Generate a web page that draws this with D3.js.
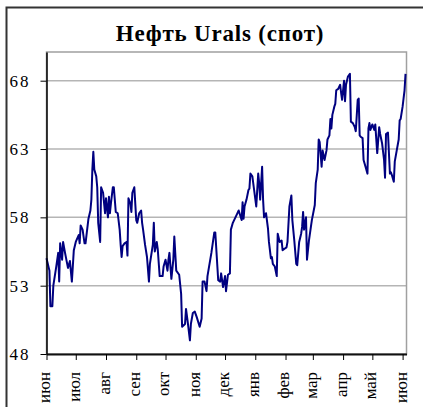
<!DOCTYPE html>
<html>
<head>
<meta charset="utf-8">
<script src="https://cdn.jsdelivr.net/npm/d3@7"></script>
<style>
  body { margin: 0; background: #fff; }
  svg { display: block; }
</style>
</head>
<body>
<script>
// Urals spot price
var title = 'Нефть Urals (спот)';

var dates = [
  '2005-06-01','2005-06-04','2005-06-05','2005-06-07','2005-06-08','2005-06-11','2005-06-13','2005-06-14',
  '2005-06-15','2005-06-17','2005-06-18','2005-06-20','2005-06-23','2005-06-25','2005-06-27','2005-06-29',
  '2005-07-01','2005-07-04','2005-07-05','2005-07-06','2005-07-08','2005-07-10','2005-07-11','2005-07-14',
  '2005-07-16','2005-07-17','2005-07-18','2005-07-19','2005-07-20','2005-07-22','2005-07-23','2005-07-24',
  '2005-07-26','2005-07-27','2005-07-29','2005-07-31','2005-08-01','2005-08-03','2005-08-04','2005-08-05',
  '2005-08-06','2005-08-08','2005-08-09','2005-08-11','2005-08-13','2005-08-15','2005-08-16','2005-08-17',
  '2005-08-18','2005-08-20','2005-08-22','2005-08-23','2005-08-24','2005-08-26','2005-08-27','2005-08-28',
  '2005-08-30','2005-09-01','2005-09-02','2005-09-04','2005-09-06','2005-09-07','2005-09-08','2005-09-10',
  '2005-09-12','2005-09-14','2005-09-15','2005-09-18','2005-09-19','2005-09-20','2005-09-22','2005-09-23',
  '2005-09-25','2005-09-28','2005-09-29','2005-10-01','2005-10-03','2005-10-04','2005-10-05','2005-10-07',
  '2005-10-09','2005-10-10','2005-10-12','2005-10-15','2005-10-17','2005-10-18','2005-10-21','2005-10-22',
  '2005-10-24','2005-10-26','2005-10-27','2005-10-29','2005-10-31','2005-11-02','2005-11-05','2005-11-07',
  '2005-11-08','2005-11-10','2005-11-12','2005-11-13','2005-11-17','2005-11-20','2005-11-21','2005-11-24',
  '2005-11-26','2005-11-27','2005-11-29','2005-12-01','2005-12-02','2005-12-04','2005-12-06','2005-12-07',
  '2005-12-09','2005-12-13','2005-12-15','2005-12-18','2005-12-19','2005-12-20','2005-12-21','2005-12-23',
  '2005-12-25','2005-12-26','2005-12-27','2005-12-29','2005-12-31','2006-01-02','2006-01-04','2006-01-05',
  '2006-01-06','2006-01-08','2006-01-09','2006-01-10','2006-01-12','2006-01-14','2006-01-15','2006-01-17',
  '2006-01-18','2006-01-19','2006-01-21','2006-01-23','2006-01-24','2006-01-26','2006-01-28','2006-01-29',
  '2006-01-31','2006-02-02','2006-02-03','2006-02-05','2006-02-07','2006-02-08','2006-02-10','2006-02-12',
  '2006-02-13','2006-02-15','2006-02-17','2006-02-18','2006-02-19','2006-02-20','2006-02-22','2006-02-23',
  '2006-02-25','2006-02-27','2006-02-28','2006-03-03','2006-03-04','2006-03-06','2006-03-07','2006-03-08',
  '2006-03-10','2006-03-11','2006-03-13','2006-03-15','2006-03-16','2006-03-18','2006-03-19','2006-03-20',
  '2006-03-21','2006-03-23','2006-03-24','2006-03-25','2006-03-27','2006-03-29','2006-03-30','2006-03-31',
  '2006-04-02','2006-04-03','2006-04-04','2006-04-06','2006-04-08','2006-04-09','2006-04-11','2006-04-13',
  '2006-04-14','2006-04-16','2006-04-17','2006-04-18','2006-04-19','2006-04-21','2006-04-22','2006-04-24',
  '2006-04-26','2006-04-27','2006-04-28','2006-04-29','2006-05-01','2006-05-03','2006-05-04','2006-05-06',
  '2006-05-08','2006-05-09','2006-05-11','2006-05-13','2006-05-14','2006-05-15','2006-05-17','2006-05-19',
  '2006-05-20','2006-05-21','2006-05-23','2006-05-24','2006-05-26','2006-05-28','2006-05-29','2006-05-30',
  '2006-06-01','2006-06-02','2006-06-03','2006-06-04'
];

var prices = [
  55.0, 54.1, 51.5, 51.5, 53.0, 54.4, 55.4, 53.3,
  56.1, 54.9, 56.2, 55.4, 54.3, 54.8, 53.3, 55.6,
  56.2, 56.7, 56.1, 57.4, 57.1, 56.1, 56.1, 57.9,
  58.5, 59.3, 61.5, 62.8, 61.5, 61.0, 60.2, 57.6,
  56.2, 60.2, 59.8, 58.3, 59.4, 58.0, 59.5, 58.3,
  59.0, 60.2, 60.2, 58.4, 58.3, 57.1, 56.0, 55.1,
  55.9, 56.1, 56.2, 55.2, 59.4, 59.0, 58.4, 59.8,
  60.2, 57.8, 57.6, 58.3, 58.5, 57.6, 57.1, 56.0,
  55.1, 53.3, 54.6, 56.0, 57.6, 55.5, 56.2, 55.7,
  53.7, 53.7, 54.4, 54.9, 54.1, 54.9, 55.4, 53.5,
  54.9, 56.6, 54.1, 53.8, 52.4, 50.0, 50.2, 51.3,
  50.2, 49.0, 50.2, 51.0, 51.1, 50.7, 50.0, 50.6,
  53.3, 53.3, 52.6, 53.7, 55.4, 56.9, 56.9, 53.4,
  53.3, 53.9, 52.9, 53.7, 52.6, 53.8, 53.9, 57.1,
  57.6, 58.2, 58.5, 57.8, 59.1, 57.9, 58.8, 59.3,
  60.0, 60.1, 61.2, 61.0, 59.9, 58.8, 61.2, 60.5,
  59.3, 61.7, 59.3, 58.0, 58.3, 57.2, 56.2, 55.0,
  55.1, 54.6, 54.4, 53.7, 56.8, 56.2, 56.3, 55.6,
  55.7, 55.8, 56.2, 58.8, 59.6, 57.8, 56.3, 54.6,
  54.5, 56.2, 56.8, 57.3, 58.4, 57.1, 58.0, 54.9,
  56.3, 57.3, 57.8, 58.9, 60.5, 61.5, 63.7, 63.5,
  61.7, 62.9, 62.2, 62.9, 63.7, 64.0, 65.2, 64.5,
  65.5, 66.1, 66.3, 67.3, 67.4, 67.7, 67.1, 66.6,
  68.0, 66.5, 67.7, 68.3, 68.5, 65.0, 64.9, 64.6,
  64.3, 66.6, 66.7, 64.0, 63.9, 63.8, 62.2, 61.7,
  61.2, 64.5, 64.9, 64.4, 64.8, 64.4, 64.8, 62.7,
  64.6, 64.1, 63.4, 62.2, 60.9, 64.1, 64.2, 61.2,
  61.3, 61.1, 60.6, 62.1, 62.9, 63.7, 65.1, 65.2,
  66.1, 66.7, 67.3, 68.5
];

var yTicks = [48, 53, 58, 63, 68];
var monthStarts = ['2005-06-01','2005-07-01','2005-08-01','2005-09-01','2005-10-01','2005-11-01','2005-12-01',
                   '2006-01-01','2006-02-01','2006-03-01','2006-04-01','2006-05-01','2006-06-01'];
var monthLabels = ['июн','июл','авг','сен','окт','ноя','дек','янв','фев','мар','апр','май','июн'];

var w = 423, h = 407;
var plotLeft = 46.5, plotRight = 406.5, plotTop = 52, plotBottom = 354;
var serif = '"Liberation Serif", "Times New Roman", serif';

var parse = d3.timeParse('%Y-%m-%d');
var data = dates.map(function(d, i) { return { date: parse(d), value: prices[i] }; });

var x = d3.scaleTime()
  .domain([parse('2005-06-01'), parse('2006-06-05')])
  .range([plotLeft, plotRight]);

var y = d3.scaleLinear()
  .domain([48, 70.1])
  .range([plotBottom, plotTop]);

var svg = d3.select('body').append('svg')
  .attr('width', w)
  .attr('height', h);

// outer frame (runs past the right and bottom edges)
svg.append('rect')
  .attr('x', 6.5).attr('y', 7.5)
  .attr('width', 440).attr('height', 440)
  .attr('fill', 'none')
  .attr('stroke', '#333')
  .attr('stroke-width', 2);

svg.append('text')
  .attr('x', 220).attr('y', 41)
  .attr('text-anchor', 'middle')
  .style('font-family', serif)
  .style('font-size', '23px')
  .style('font-weight', 'bold')
  .style('letter-spacing', '0.8px')
  .text(title);

// gridlines
svg.append('g').selectAll('line')
  .data(yTicks.slice(1))
  .enter().append('line')
  .attr('x1', plotLeft).attr('x2', plotRight)
  .attr('y1', function(d) { return y(d); })
  .attr('y2', function(d) { return y(d); })
  .attr('stroke', '#b5b5b5')
  .attr('stroke-width', 1.5);

// plot area border
svg.append('rect')
  .attr('x', plotLeft).attr('y', plotTop)
  .attr('width', plotRight - plotLeft).attr('height', plotBottom - plotTop)
  .attr('fill', 'none')
  .attr('stroke', '#a0a0a0')
  .attr('stroke-width', 1.5);

var line = d3.line()
  .x(function(d) { return x(d.date); })
  .y(function(d) { return y(d.value); });

svg.append('path')
  .datum(data)
  .attr('d', line)
  .attr('fill', 'none')
  .attr('stroke', '#000080')
  .attr('stroke-width', 2)
  .attr('stroke-linejoin', 'round');

var yAxis = d3.axisLeft(y)
  .tickValues(yTicks)
  .tickSize(6)
  .tickSizeOuter(0)
  .tickPadding(10);

var gy = svg.append('g')
  .attr('transform', 'translate(' + plotLeft + ',0)')
  .call(yAxis);
gy.select('.domain').attr('stroke', '#000').attr('stroke-width', 1.5);
gy.selectAll('line').attr('stroke', '#000');
gy.selectAll('text')
  .style('font-family', serif)
  .style('font-size', '17px')
  .style('letter-spacing', '2px')
  .attr('fill', '#000');

var xAxis = d3.axisBottom(x)
  .tickValues(monthStarts.map(parse))
  .tickSize(6)
  .tickSizeOuter(0)
  .tickFormat(function(d, i) { return monthLabels[i]; });

var gx = svg.append('g')
  .attr('transform', 'translate(0,' + plotBottom + ')')
  .call(xAxis);
gx.select('.domain').attr('stroke', '#111').attr('stroke-width', 2);
gx.selectAll('line').attr('stroke', '#000');
gx.selectAll('text')
  .attr('transform', 'rotate(-90)')
  .attr('text-anchor', 'end')
  .attr('x', -18)
  .attr('y', 0)
  .attr('dy', '0.2em')
  .style('font-family', serif)
  .style('font-size', '17px')
  .attr('fill', '#000');
</script>
</body>
</html>
